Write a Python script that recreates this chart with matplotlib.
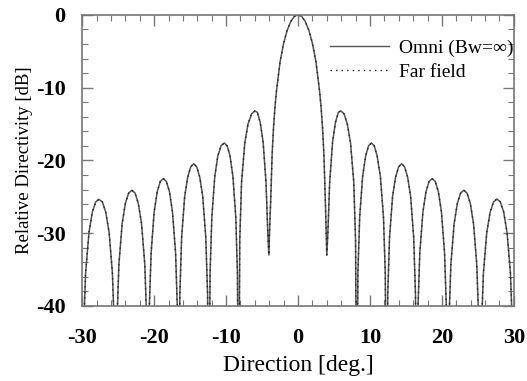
import numpy as np
import matplotlib
matplotlib.use('Agg')
import matplotlib.pyplot as plt
from matplotlib.ticker import MultipleLocator

# values (deg, dB)
direction_deg = [
    # left side lobes
    -30.0, -29.81, -29.53, -29.06, -28.59, -28.12, -27.68, -27.2, -26.73, -26.26, -25.8, -25.53, -25.35,
    -25.17, -24.9, -24.45, -24.0, -23.55, -23.1, -22.65, -22.2, -21.75, -21.3, -21.03, -20.85,
    -20.68, -20.42, -20.0, -19.57, -19.15, -18.72, -18.3, -17.87, -17.45, -17.02, -16.77, -16.6,
    -16.43, -16.18, -15.76, -15.34, -14.92, -14.5, -14.08, -13.66, -13.24, -12.82, -12.57, -12.4,
    -12.23, -11.98, -11.57, -11.15, -10.7, -10.25, -9.85, -9.45, -9.05, -8.65, -8.42, -8.25,
    -8.1, -7.85, -7.4, -6.95, -6.45, -6.0, -5.65, -5.25, -4.85, -4.45, -4.2, -4.05,
    # main lobe
    -3.95, -3.8, -3.6, -3.4, -3.2, -3.0, -2.5, -2.0, -1.5, -1.0, -0.5, 0.0,
    0.5, 1.0, 1.5, 2.0, 2.5, 3.0, 3.2, 3.4, 3.6, 3.8, 3.9, 4.0,
    # right side lobes
    4.15, 4.4, 4.8, 5.2, 5.6, 5.95, 6.4, 6.85, 7.3, 7.75, 8.0, 8.15,
    8.32, 8.57, 8.98, 9.4, 9.8, 10.2, 10.6, 11.0, 11.45, 11.88, 12.13, 12.3,
    12.47, 12.72, 13.14, 13.56, 13.98, 14.4, 14.82, 15.24, 15.66, 16.08, 16.33, 16.5,
    16.67, 16.93, 17.36, 17.79, 18.22, 18.65, 19.08, 19.51, 19.94, 20.37, 20.63, 20.8,
    20.98, 21.25, 21.7, 22.15, 22.6, 23.05, 23.5, 23.95, 24.4, 24.85, 25.12, 25.3,
    25.49, 25.77, 26.24, 26.71, 27.18, 27.65, 28.12, 28.59, 29.06, 29.53, 29.81, 30.0,
]
directivity_db = [
    -60, -43.3, -35.5, -29.9, -27.1, -25.7, -25.35, -25.7, -27.1, -29.9, -35.5, -43.3, -60,
    -42.1, -34.3, -28.7, -25.9, -24.5, -24.1, -24.5, -25.9, -28.7, -34.3, -42.1, -60,
    -40.5, -32.7, -27.1, -24.3, -22.9, -22.5, -22.9, -24.3, -27.1, -32.7, -40.5, -60,
    -38.5, -30.6, -25.0, -22.3, -20.9, -20.45, -20.9, -22.3, -25.0, -30.6, -38.5, -60,
    -35.6, -27.8, -22.2, -19.4, -18.0, -17.6, -18.0, -19.4, -22.2, -27.8, -35.6, -60,
    -31.0, -23.0, -17.6, -15.0, -13.6, -13.2, -13.4, -14.8, -17.5, -23.0, -30.0, -33.0,
    -29.5, -25.6, -19.2, -15.4, -12.6, -10.5, -6.5, -3.9, -2.1, -0.9, -0.2, 0.0,
    -0.2, -0.9, -2.1, -3.9, -6.5, -10.5, -12.6, -15.4, -19.2, -25.6, -29.5, -33.0,
    -30.0, -23.0, -17.5, -14.8, -13.4, -13.2, -13.6, -15.0, -17.6, -23.0, -31.0, -60,
    -35.6, -27.8, -22.2, -19.4, -18.0, -17.6, -18.0, -19.4, -22.2, -27.8, -35.6, -60,
    -38.5, -30.6, -25.0, -22.3, -20.9, -20.45, -20.9, -22.3, -25.0, -30.6, -38.5, -60,
    -40.5, -32.7, -27.1, -24.3, -22.9, -22.5, -22.9, -24.3, -27.1, -32.7, -40.5, -60,
    -42.1, -34.3, -28.7, -25.9, -24.5, -24.1, -24.5, -25.9, -28.7, -34.3, -42.1, -60,
    -43.3, -35.5, -29.9, -27.1, -25.7, -25.3, -25.7, -27.1, -29.9, -35.5, -43.3, -60,
]
# far field curve lies on top of the omni curve in the picture
far_field_db = directivity_db

x_ticks = [-30, -20, -10, 0, 10, 20, 30]
y_ticks = [-40, -30, -20, -10, 0]

plt.rcParams['font.family'] = ['Liberation Serif', 'DejaVu Serif']
plt.rcParams['axes.unicode_minus'] = False

fig = plt.figure(figsize=(5.27, 3.81), dpi=100)
ax = fig.add_axes([0.156, 0.197, 0.819, 0.764])

ax.plot(direction_deg, directivity_db, color='#555555', linewidth=1.1,
        linestyle='-', label='Omni (Bw=\u221e)')
ax.plot(direction_deg, far_field_db, color='#222222', linewidth=1.0,
        linestyle=(0, (1, 3)), label='Far field')

ax.set_xlim(-30, 30)
ax.set_ylim(-40, 0)
ax.set_xticks(x_ticks)
ax.set_yticks(y_ticks)
ax.xaxis.set_minor_locator(MultipleLocator(2))
ax.yaxis.set_minor_locator(MultipleLocator(2))
ax.tick_params(which='both', direction='in', top=True, right=True,
               color='#777777', labelsize=16)
ax.tick_params(which='major', length=8, width=1.0)
ax.tick_params(which='minor', length=4, width=0.8)
ax.tick_params(axis='x', pad=16)
ax.tick_params(axis='y', pad=12)
for lab in ax.get_xticklabels() + ax.get_yticklabels():
    lab.set_fontweight('bold')
for s in ax.spines.values():
    s.set_color('#777777')
    s.set_linewidth(1.2)

ax.set_xlabel('Direction [deg.]', fontsize=17, labelpad=5)
ax.set_ylabel('Relative Directivity [dB]', fontsize=13.5, labelpad=2)

leg = ax.legend(loc='upper left', bbox_to_anchor=(0.575, 0.915), frameon=False,
                fontsize=14, handlelength=3.0, handletextpad=0.55,
                labelspacing=0.3, borderpad=0, borderaxespad=0)
for h in leg.get_lines():
    h.set_linewidth(1.0)

fig.savefig('out.png', dpi=100)
